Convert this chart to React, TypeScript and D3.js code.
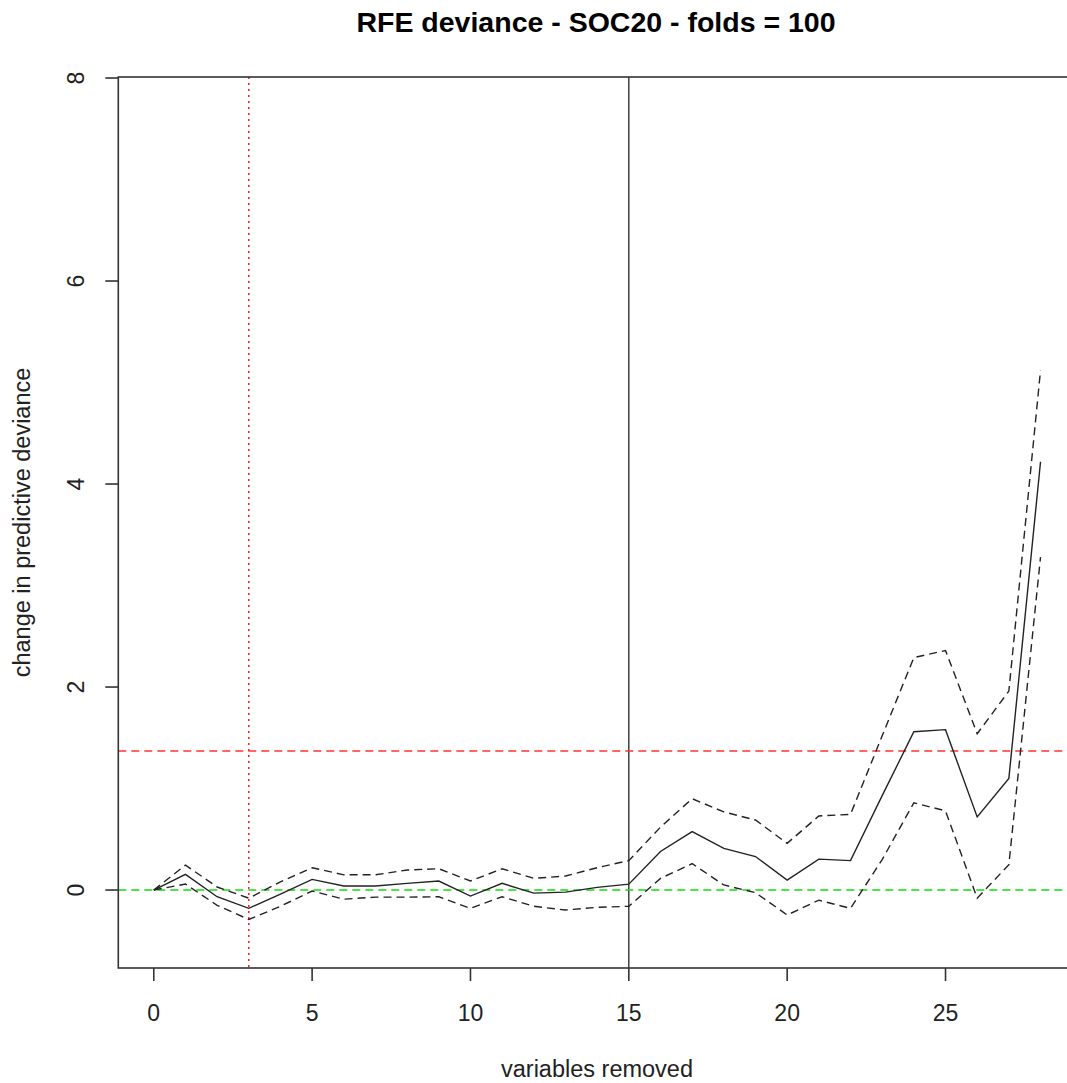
import React from 'react';
import * as d3 from 'd3';

// variables removed (0..28)
const removed = d3.range(0, 29);
const meanDev = [0, 0.155, -0.066, -0.18, -0.04, 0.105, 0.04, 0.04, 0.066, 0.089, -0.059, 0.066, -0.03, -0.02, 0.026, 0.058,
  0.38, 0.575, 0.41, 0.33, 0.098, 0.305, 0.29, 0.93, 1.56, 1.58, 0.72, 1.1, 4.22];
const upperDev = [0, 0.246, 0.03, -0.08, 0.08, 0.22, 0.15, 0.15, 0.197, 0.21, 0.089, 0.21, 0.115, 0.138, 0.22, 0.29,
  0.62, 0.9, 0.77, 0.69, 0.46, 0.73, 0.745, 1.52, 2.29, 2.36, 1.54, 1.96, 5.12];
const lowerDev = [0, 0.059, -0.15, -0.29, -0.16, -0.01, -0.09, -0.07, -0.07, -0.066, -0.18, -0.066, -0.16, -0.197, -0.17, -0.16,
  0.115, 0.26, 0.05, -0.026, -0.246, -0.1, -0.18, 0.3, 0.86, 0.78, -0.08, 0.25, 3.28];
const xTicks = [0, 5, 10, 15, 20, 25];
const yTicks = [0, 2, 4, 6, 8];
const optimalLine = 3; // red dotted
const cutLine = 15; // black solid
const thresholdDev = 1.37; // red dashed

const W = 1067, H = 1083;
const left = 118.3, right = 1076, top = 77, bottom = 968;

export default function App() {
  const x = d3.scaleLinear().domain([-1.12, 29.12]).range([left, right]);
  const y = d3.scaleLinear().domain([-0.768, 8.01]).range([bottom, top]);
  const line = d3.line<number>().x((_, i) => x(removed[i])).y(d => y(d));
  const font = '"Liberation Sans", Arial, sans-serif';

  return (
    <svg width={W} height={H} style={{ position: 'absolute', left: 0, top: 0, background: '#fff' }}>
      <defs>
        <clipPath id="plotclip">
          <rect x={left} y={top} width={right - left} height={bottom - top} />
        </clipPath>
      </defs>
      <text x={596} y={32} textAnchor="middle" fontFamily={font} fontWeight="bold" fontSize={28.5}>
        RFE deviance - SOC20 - folds = 100
      </text>

      <g clipPath="url(#plotclip)">
        <line x1={x(optimalLine)} x2={x(optimalLine)} y1={top} y2={bottom} stroke="#f22" strokeWidth={1.6} strokeDasharray="2,4" />
        <line x1={x(cutLine)} x2={x(cutLine)} y1={top} y2={bottom} stroke="#222" strokeWidth={1.3} />
        <line x1={left} x2={right} y1={y(thresholdDev)} y2={y(thresholdDev)} stroke="#f33" strokeWidth={1.5} strokeDasharray="8,5" />
        <line x1={left} x2={right} y1={y(0)} y2={y(0)} stroke="#1d1" strokeWidth={1.5} strokeDasharray="8,5" />
        <path d={line(upperDev) ?? ''} fill="none" stroke="#222" strokeWidth={1.4} strokeDasharray="8,5" />
        <path d={line(lowerDev) ?? ''} fill="none" stroke="#222" strokeWidth={1.4} strokeDasharray="8,5" />
        <path d={line(meanDev) ?? ''} fill="none" stroke="#222" strokeWidth={1.4} />
      </g>

      <rect x={left} y={top} width={right - left} height={bottom - top} fill="none" stroke="#333" strokeWidth={1.6} />

      {xTicks.map(t => (
        <g key={'x' + t}>
          <line x1={x(t)} x2={x(t)} y1={bottom} y2={bottom + 13} stroke="#333" strokeWidth={1.6} />
          <text x={x(t)} y={1021} textAnchor="middle" fontFamily={font} fontSize={23} fill="#222">{t}</text>
        </g>
      ))}
      {yTicks.map(t => (
        <g key={'y' + t}>
          <line x1={left - 13} x2={left} y1={y(t)} y2={y(t)} stroke="#333" strokeWidth={1.6} />
          <text transform={`translate(84,${y(t)}) rotate(-90)`} textAnchor="middle" fontFamily={font} fontSize={23} fill="#222">{t}</text>
        </g>
      ))}

      <text x={597} y={1077} textAnchor="middle" fontFamily={font} fontSize={23.5} fill="#222">variables removed</text>
      <text transform={`translate(30,${(top + bottom) / 2}) rotate(-90)`} textAnchor="middle" fontFamily={font} fontSize={23.5} fill="#222">
        change in predictive deviance
      </text>
    </svg>
  );
}
